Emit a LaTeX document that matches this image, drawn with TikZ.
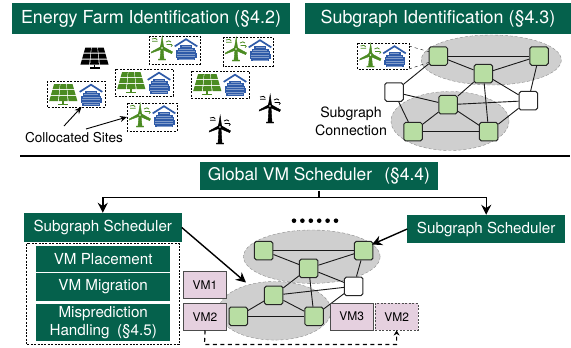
\documentclass[tikz,border=0pt]{standalone}
\usepackage{fontspec}
\setmainfont{TeX Gyre Heros}
\usetikzlibrary{arrows.meta}
\definecolor{dgreen}{HTML}{05614C}
\definecolor{lgreen}{HTML}{B8DEA3}
\definecolor{gfill}{HTML}{CFCFCF}
\definecolor{pink}{HTML}{E5D0DF}
\definecolor{solar}{HTML}{4B8B22}
\definecolor{srv}{HTML}{2F5BA8}
\def\tb{12}
\tikzset{
 x=1pt,y=-1pt,
 banner/.style={fill=dgreen,draw=none,text=white,inner sep=0pt,align=center},
 graphnode/.style={draw=black!85,line width=1pt,rounded corners=1.8pt,fill=lgreen,minimum size=18.5pt,inner sep=0pt},
 freenode/.style={graphnode,fill=white},
 blob/.style={draw=black!45,densely dashed,line width=.4pt,fill=gfill},
 edgeline/.style={line width=.9pt,black!90},
 sitebox/.style={draw=black,dash pattern=on 2pt off 1.4pt,line width=.8pt},
 vmbox/.style={draw=black!70,line width=1pt,fill=pink,minimum width=43pt,minimum height=26.6pt,inner sep=0pt,font=\fontsize{12}{13}\selectfont},
 arr/.style={-{Stealth[length=10pt,width=10pt]},line width=1.4pt},
 panelicon/.pic={
  \foreach \r in {0,1,2}{\foreach \c in {0,1,2}{
   \pgfmathsetmacro\yt{-8+\r*6}
   \pgfmathsetmacro\yb{\yt+5}
   \pgfmathsetmacro\ht{9.5+(\yt+8)/17*5}
   \pgfmathsetmacro\hb{9.5+(\yb+8)/17*5}
   \pgfmathsetmacro\ua{-1+2*\c/3+.03}
   \pgfmathsetmacro\ub{-1+2*(\c+1)/3-.03}
   \fill[pic actions] ({\ua*\ht},\yt)--({\ub*\ht},\yt)--({\ub*\hb},\yb)--({\ua*\hb},\yb)--cycle;
  }}
  \fill[pic actions] (-.9,9)rectangle(.9,12.5);
  \fill[pic actions] (-5,11.7)rectangle(5,12.9);
 },
 turbineicon/.pic={
  \fill[pic actions] (-1,0)--(1,0)--(2,\tb-1)--(3.6,\tb-1)--(3.6,\tb)--(-3.6,\tb)--(-3.6,\tb-1)--(-2,\tb-1)--cycle;
  \fill[pic actions] (-1.6,-1)--(.2,-11.5)--(1.6,-1)--cycle;
  \fill[pic actions] (-.2,-1.8)--(-10.5,3.8)--(-10.8,5)--(-.9,1.4)--cycle;
  \fill[pic actions] (.2,-1.8)--(10.5,3.8)--(9.6,5.6)--(.6,1.8)--cycle;
  \fill[pic actions] (0,0) circle (2.3);
  \fill[white] (0,0) circle (.8);
  \draw[pic actions,line width=.8pt,fill=none] (-10,-9) .. controls (-7.5,-10) and (-5,-10) .. (-4.8,-8.2) (-10,-6.8)--(-4.5,-6.8);
  \draw[pic actions,line width=.8pt,fill=none] (4,-6) .. controls (6,-7.5) and (8,-7.5) .. (9,-6) (4.5,-3.5)--(9.5,-3.5) .. controls (10.5,-3.5) and (10.5,-1.5) .. (9,-1.5);
 },
 servericon/.pic={
  \draw[srv,line width=1.7pt,line join=miter] (-11.3,-2.6)--(0,-9.8)--(11.3,-2.6);
  \foreach \yy/\w in {-3.6/6,-1.1/8.5,1.4/10,3.9/10.5,6.4/10.5,8.9/9}{
    \fill[srv] (-\w,\yy)rectangle(\w,\yy+2.1);
    \fill[white!40!srv] (-\w+1.5,\yy+.8)rectangle(\w-1.5,\yy+1.3);
  }
 },
}
\newcommand{\turbsite}[4]{% x0,y0,x1,y1
 \draw[sitebox] (#1,#2) rectangle (#3,#4);
 \path (#1+13,#2+12) pic[solar,fill=solar,draw=solar] {turbineicon};
 \path (#1+37,#2+13) pic {servericon};
}
\newcommand{\panelsite}[4]{%
 \draw[sitebox] (#1,#2) rectangle (#3,#4);
 \path (#1+16.3,#2+11) pic[solar,fill=solar] {panelicon};
 \path (#1+44,#2+13.5) pic {servericon};
}
\begin{document}
\begin{tikzpicture}
\useasboundingbox (0,0) rectangle (571,348);
\fill[white] (0,0) rectangle (571,348);
% headers
\node[banner,minimum width=278pt,minimum height=31pt,font=\fontsize{17.9}{20}\selectfont] (h1) at (151,18.5) {Energy Farm Identification (§4.2)};
\node[banner,minimum width=266pt,minimum height=31pt,font=\fontsize{17.9}{20}\selectfont] (h2) at (438,18.5) {Subgraph Identification (§4.3)};
\draw[line width=1.4pt] (20,156) -- (570,156);
% sites
\turbsite{149}{36}{200}{64}
\turbsite{223}{37}{273}{66}
\panelsite{115}{69}{173}{96}
\panelsite{191}{71}{249}{98}
\panelsite{47}{81}{105}{107}
\turbsite{127}{103}{177}{131}
\path (94.5,55.7) pic[black,fill=black] {panelicon};
\def\tb{17}
\path (220,127) pic[black,fill=black,draw=black] {turbineicon};
\path (270,106) pic[black,fill=black,draw=black] {turbineicon};
\def\tb{12}
\node[inner sep=0pt,font=\fontsize{13.6}{15}\selectfont] (cs) at (74,138) {Collocated Sites};
\coordinate (cs1) at (64,126);
\coordinate (cs2) at (81.5,107);
\coordinate (cs3) at (86,129);
\coordinate (cs4) at (127,117);
\draw[-{Stealth[length=7pt,width=6pt]},line width=.9pt] (cs1)--(cs2);
\draw[-{Stealth[length=7pt,width=6pt]},line width=.9pt] (cs3)--(cs4);
% subgraph identification
\draw[blob] (491.3,60) ellipse (70 and 25);
\draw[blob] (450,121) ellipse (59 and 29.5);
\turbsite{357.5}{43}{409}{69}
\coordinate (z1) at (409,46);\coordinate (z2) at (430,52);\coordinate (z3) at (409,69);\coordinate (z4) at (430,62);
\draw[dashed,line width=.4pt] (z1)--(z2) (z3)--(z4);
\node[graphnode] (n1) at (438.3,56) {};
\node[graphnode] (n2) at (539,56) {};
\node[graphnode] (n3) at (483.3,73.7) {};
\node[freenode] (n4) at (394,92) {};
\node[freenode] (n5) at (528.3,100.7) {};
\node[graphnode] (n6) at (448,104.7) {};
\node[graphnode] (n7) at (413,131.7) {};
\node[graphnode] (n8) at (488.7,131.7) {};
\foreach \a/\b in {n1/n2,n1/n3,n2/n3,n1/n4,n2/n5,n3/n5,n3/n6,n3/n8,n4/n6,n4/n7,n6/n5,n6/n7,n6/n8,n7/n8,n8/n5}
  \draw[edgeline] (\a)--(\b);
\node[inner sep=0pt,align=center,font=\fontsize{14.2}{18}\selectfont] (sc) at (351,121) {Subgraph\\Connection};
% global
\node[banner,minimum width=238.5pt,minimum height=28.5pt,font=\fontsize{17.4}{19}\selectfont] (gs) at (318.8,176.2) {Global VM Scheduler\hspace{.7em}(§4.4)};
\node[banner,minimum width=157.5pt,minimum height=29pt,font=\fontsize{15.2}{17}\selectfont] (ss1) at (102.8,227.5) {Subgraph Scheduler};
\node[banner,minimum width=157.5pt,minimum height=28pt,font=\fontsize{15.2}{17}\selectfont] (ss2) at (486.2,229) {Subgraph Scheduler};
\draw[line width=1.4pt] (gs.south) -- (318.8,197.5) coordinate (m);
\draw[arr] (m) -| (ss1.north);
\draw[arr] (m) -| (ss2.north);
\draw[sitebox] (26.5,243.5) rectangle (179,344.5);
\node[banner,minimum width=133.5pt,minimum height=26pt,font=\fontsize{15.2}{17}\selectfont] (p1) at (103.2,259) {VM Placement};
\node[banner,minimum width=133.5pt,minimum height=28pt,font=\fontsize{15.2}{17}\selectfont] (p2) at (103.2,287) {VM Migration};
\node[banner,minimum width=133.5pt,minimum height=37pt,font=\fontsize{15.2}{17.5}\selectfont] (p3) at (103.2,322.5) {Misprediction\\Handling\hspace{.5em}(§4.5)};
% lower graph
\foreach \i in {0,...,5} \fill (294+\i*8.4,220.7) circle (2.3) coordinate (dot\i);
\draw[blob] (311.8,256.7) ellipse (68.3 and 26.7);
\draw[blob] (274.7,310.8) ellipse (56.3 and 29.3);
\node[graphnode] (a) at (263.7,250.7) {};
\node[graphnode] (b) at (363.7,250.7) {};
\node[graphnode] (c) at (308.7,268.3) {};
\node[freenode] (d) at (353.7,286.3) {};
\node[graphnode] (e) at (273.7,295.3) {};
\node[graphnode] (f) at (238.3,316.3) {};
\node[graphnode] (g) at (314,316.3) {};
\foreach \a/\b in {a/b,a/c,b/c,b/d,c/d,c/e,c/g,d/e,d/g,e/f,e/g,f/g}
  \draw[edgeline] (\a)--(\b);
\node[vmbox] (vm1) at (205,285) {VM1};
\node[vmbox] (vm2) at (205,316.7) {VM2};
\node[vmbox] (vm3) at (351.8,316.7) {VM3};
\node[vmbox,dash pattern=on 2pt off 1.5pt] (vm2b) at (396.6,316.7) {VM2};
\coordinate (t1) at (246,282.5);
\coordinate (t2) at (372,244.5);
\draw[arr] (ss1.east) -- (t1);
\draw[arr] (ss2.west) -- (t2);
\coordinate (r1) at (204.5,344.5);
\coordinate (r2) at (396.6,344.5);
\draw[dash pattern=on 4pt off 3.5pt,line width=1.2pt,-{Stealth[length=5pt,width=6pt]}] (vm2.south) -- (r1) -- (r2) -- (vm2b.south);
\end{tikzpicture}
\end{document}
